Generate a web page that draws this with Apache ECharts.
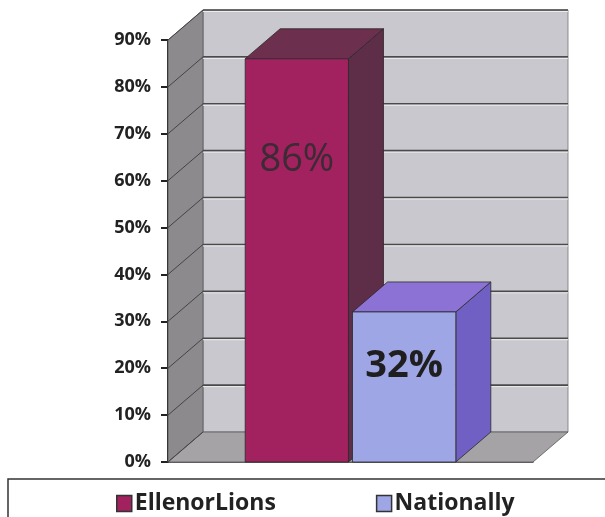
<!DOCTYPE html>
<html>
<head>
<meta charset="utf-8">
<script src="https://cdn.jsdelivr.net/npm/echarts@6/dist/echarts.min.js"></script>
<style>html,body{margin:0;padding:0;background:#fff;}#c{width:605px;height:517px;}</style>
</head>
<body>
<div id="c"></div>
<script>
const categories = [''];
const seriesNames = ['EllenorLions', 'Nationally'];
const ellenorValues = [0.86];
const nationalValues = [0.32];
const yTicks = [0, 0.1, 0.2, 0.3, 0.4, 0.5, 0.6, 0.7, 0.8, 0.9];

const DX = 35, DY = -30;
const palettes = [
  { front: '#A2215F', side: '#5E2D47', top: '#6C2F4D', label: '#3a2b34', weight: 'normal', labelDy: 101 },
  { front: '#9EA6E6', side: '#7160C4', top: '#8C72D4', label: '#1f1f1f', weight: 'bold', labelDy: 54 }
];

function wallRender(params, api) {
  const cs = params.coordSys;
  const x0 = cs.x, x1 = cs.x + cs.width;
  const yb = api.coord([0, yTicks[0]])[1];
  const yt = api.coord([0, yTicks[yTicks.length - 1]])[1];
  const children = [];
  children.push({ type: 'rect', shape: { x: x0 + DX, y: yt + DY, width: cs.width, height: yb - yt },
    style: { fill: '#C9C8CE', stroke: '#777', lineWidth: 0.8 } });
  children.push({ type: 'polygon', shape: { points: [[x0, yt], [x0 + DX, yt + DY], [x0 + DX, yb + DY], [x0, yb]] },
    style: { fill: '#8C8A8D', stroke: '#555', lineWidth: 0.8 } });
  children.push({ type: 'polygon', shape: { points: [[x0, yb], [x0 + DX, yb + DY], [x1 + DX, yb + DY], [x1, yb]] },
    style: { fill: '#A6A3A6', stroke: '#555', lineWidth: 0.8 } });
  yTicks.forEach(function (t, i) {
    const y = api.coord([0, t])[1];
    if (i > 0) {
      children.push({ type: 'line', shape: { x1: x0 + DX, y1: y + DY, x2: x1 + DX, y2: y + DY },
        style: { stroke: '#4a4a4a', lineWidth: 1.6 } });
      children.push({ type: 'line', shape: { x1: x0 + DX, y1: y + DY + 1.5, x2: x1 + DX, y2: y + DY + 1.5 },
        style: { stroke: '#ececee', lineWidth: 1 } });
    }
    children.push({ type: 'line', shape: { x1: x0, y1: y, x2: x0 + DX, y2: y + DY },
      style: { stroke: '#444', lineWidth: 1 } });
  });
  return { type: 'group', children: children };
}

function barRender(sIdx) {
  return function (params, api) {
    const val = api.value(1);
    const base = api.coord([api.value(0), 0]);
    const top = api.coord([api.value(0), val]);
    const band = api.size([1, 0])[0];
    const barW = band * 0.283;
    const gap = band * 0.011;
    const x0 = sIdx === 0 ? base[0] - gap / 2 - barW : base[0] + gap / 2;
    const ty = top[1], by = base[1];
    const p = palettes[sIdx];
    const edge = { stroke: '#2a2a2a', lineWidth: 0.8 };
    return {
      type: 'group',
      children: [
        { type: 'polygon', shape: { points: [[x0 + barW, ty], [x0 + barW + DX, ty + DY], [x0 + barW + DX, by + DY], [x0 + barW, by]] },
          style: Object.assign({ fill: p.side }, edge) },
        { type: 'polygon', shape: { points: [[x0, ty], [x0 + DX, ty + DY], [x0 + barW + DX, ty + DY], [x0 + barW, ty]] },
          style: Object.assign({ fill: p.top }, edge) },
        { type: 'rect', shape: { x: x0, y: ty, width: barW, height: by - ty },
          style: Object.assign({ fill: p.front }, edge) },
        { type: 'text', x: x0 + barW / 2, y: ty + p.labelDy,
          style: { text: Math.round(val * 100) + '%', fill: p.label, font: p.weight + ' 38px "Open Sans"',
            align: 'center', verticalAlign: 'middle' } }
      ]
    };
  };
}

const chart = echarts.init(document.getElementById('c'), null, { renderer: 'canvas' });
chart.setOption({
  animation: false,
  backgroundColor: '#ffffff',
  grid: { left: 168, right: 72, top: 40, bottom: 55 },
  xAxis: {
    type: 'category', data: categories,
    axisLine: { show: true, lineStyle: { color: '#333', width: 1.5 } },
    axisTick: { show: false }, axisLabel: { show: false }, splitLine: { show: false }
  },
  yAxis: {
    type: 'value', min: 0, max: 0.9, interval: 0.1,
    axisLine: { show: true, lineStyle: { color: '#222', width: 2 } },
    axisTick: { show: true, length: 7, lineStyle: { color: '#222', width: 2 } },
    splitLine: { show: false },
    axisLabel: { margin: 17, color: '#222', fontFamily: 'Open Sans', fontWeight: 'bold', fontSize: 18,
      formatter: function (v) { return Math.round(v * 100) + '%'; } }
  },
  legend: {
    data: seriesNames, left: 111, top: 487, itemWidth: 15, itemHeight: 16, itemGap: 100,
    icon: 'rect',
    itemStyle: { borderColor: '#333', borderWidth: 1.5 },
    textStyle: { fontFamily: 'Open Sans', fontWeight: 'bold', fontSize: 23, color: '#222', padding: [0, 0, 0, -2] }
  },
  graphic: [
    { type: 'rect', shape: { x: 8, y: 479, width: 660, height: 80 }, silent: true,
      style: { fill: 'none', stroke: '#333', lineWidth: 1.5 } }
  ],
  series: [
    { type: 'custom', name: 'walls', renderItem: wallRender, data: [[0, 0]], z: 1, silent: true, clip: false },
    { type: 'custom', name: seriesNames[0], renderItem: barRender(0), itemStyle: { color: palettes[0].front },
      data: categories.map(function (c, i) { return [i, ellenorValues[i]]; }), z: 2, clip: false },
    { type: 'custom', name: seriesNames[1], renderItem: barRender(1), itemStyle: { color: palettes[1].front },
      data: categories.map(function (c, i) { return [i, nationalValues[i]]; }), z: 3, clip: false }
  ]
});
</script>
</body>
</html>
